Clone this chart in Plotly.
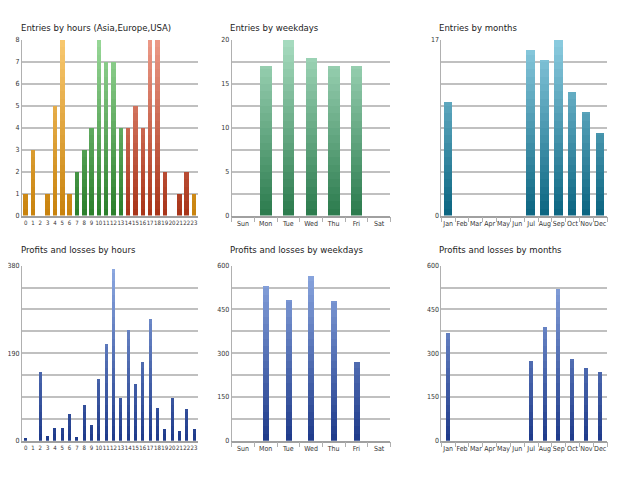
import plotly.graph_objects as go
from plotly.subplots import make_subplots

# Data
hours = [str(h) for h in range(24)]
entries_by_hour = [1, 3, 0, 1, 5, 8, 1, 2, 3, 4, 8, 7, 7, 4, 4, 5, 4, 8, 8, 2, 0, 1, 2, 1]
hour_session = ['asia'] * 7 + ['europe'] * 7 + ['usa'] * 9 + ['asia']

weekdays = ['Sun', 'Mon', 'Tue', 'Wed', 'Thu', 'Fri', 'Sat']
entries_by_weekday = [0, 17, 20, 18, 17, 17, 0]

months = ['Jan', 'Feb', 'Mar', 'Apr', 'May', 'Jun', 'Jul', 'Aug', 'Sep', 'Oct', 'Nov', 'Dec']
entries_by_month = [11, 0, 0, 0, 0, 0, 16, 15, 17, 12, 10, 8]

profit_by_hour = [6, 0, 149, 10, 29, 29, 58, 9, 79, 33, 134, 210, 373, 93, 239, 123, 171, 265, 71, 27, 93, 22, 70, 27]
profit_by_weekday = [0, 533, 482, 567, 477, 270, 0]
profit_by_month = [369, 0, 0, 0, 0, 0, 274, 391, 522, 281, 250, 236]

# gradient colours (bottom, top)
session_colors = {
    'asia': ('#c8820c', '#f8c870'),
    'europe': ('#2a7e2a', '#98d898'),
    'usa': ('#a83418', '#ec9a88'),
}
green = ('#2a7a4c', '#a8dcc0')
teal = ('#0a6480', '#8ccce0')
blue = ('#1e3a8a', '#8eaae2')

FONT = 'DejaVu Sans Condensed, DejaVu Sans'


def mix(c1, c2, t):
    a = [int(c1[i:i + 2], 16) for i in (1, 3, 5)]
    b = [int(c2[i:i + 2], 16) for i in (1, 3, 5)]
    return 'rgb(%d,%d,%d)' % tuple(round(a[k] + (b[k] - a[k]) * t) for k in range(3))


def grad_bars(fig, row, col, cats, vals, cols, ymax, width, nseg=24):
    # fake a vertical gradient by stacking thin slices of each bar
    step = ymax / nseg
    for j in range(nseg):
        lo = j * step
        h = [min(max(v - lo, 0), step) for v in vals]
        t = (j + 0.5) / nseg
        fig.add_trace(go.Bar(
            x=cats, y=h, width=width,
            marker=dict(color=[mix(c[0], c[1], t) for c in cols], line_width=0),
            showlegend=False, hoverinfo='skip'),
            row=row, col=col)


fig = make_subplots(rows=2, cols=3)

grad_bars(fig, 1, 1, hours, entries_by_hour, [session_colors[s] for s in hour_session], 8, 0.62)
grad_bars(fig, 1, 2, weekdays, entries_by_weekday, [green] * 7, 20, 0.5)
grad_bars(fig, 1, 3, months, entries_by_month, [teal] * 12, 17, 0.62)
grad_bars(fig, 2, 1, hours, profit_by_hour, [blue] * 24, 380, 0.42)
grad_bars(fig, 2, 2, weekdays, profit_by_weekday, [blue] * 7, 600, 0.26)
grad_bars(fig, 2, 3, months, profit_by_month, [blue] * 12, 600, 0.3)

# page body adds an 8px margin, so everything is laid out 8px up/left
xdom = [[13 / 640, 189 / 640], [223 / 640, 382 / 640], [433 / 640, 599 / 640]]
ydom = [[1 - 207 / 480, 1 - 28 / 480], [1 - 436 / 480, 1 - 258 / 480]]

yticks = {
    (1, 1): ([i for i in range(9)], [str(i) for i in range(9)], 8),
    (1, 2): ([i * 2.5 for i in range(9)], ['0', '', '5', '', '10', '', '15', '', '20'], 20),
    (1, 3): ([i * 17 / 8 for i in range(9)], ['0'] + [''] * 7 + ['17'], 17),
    (2, 1): ([i * 47.5 for i in range(9)], ['0'] + [''] * 3 + ['190'] + [''] * 3 + ['380'], 380),
    (2, 2): ([i * 75 for i in range(9)], ['0', '', '150', '', '300', '', '450', '', '600'], 600),
    (2, 3): ([i * 75 for i in range(9)], ['0', '', '150', '', '300', '', '450', '', '600'], 600),
}
xcats = {1: hours, 2: weekdays, 3: months}

grid = '#c0c0c0'
tickfont = dict(family=FONT, size=7, color='#333')

for r in (1, 2):
    for c in (1, 2, 3):
        tv, tt, ymax = yticks[(r, c)]
        fig.update_yaxes(domain=ydom[r - 1], range=[0, ymax], tickvals=tv, ticktext=tt,
                         showgrid=True, gridcolor=grid, gridwidth=1.5,
                         showline=True, linecolor='#b0b0b0', linewidth=1,
                         ticks='', tickfont=tickfont, zeroline=False,
                         row=r, col=c)
        fig.update_xaxes(domain=xdom[c - 1], type='category',
                         tickmode='array', tickvals=xcats[c],
                         showline=True, linecolor='#a0a0a0', linewidth=1.5,
                         showgrid=False, tickangle=0,
                         tickfont=dict(tickfont, size=6) if c == 1 else tickfont,
                         ticks='' if c == 1 else 'outside', tickson='boundaries',
                         ticklen=5, tickcolor='#b0b0b0',
                         row=r, col=c)

titles = [
    ('Entries by hours (Asia,Europe,USA)', 10, 16),
    ('Entries by weekdays', 219, 16),
    ('Entries by months', 429, 16),
    ('Profits and losses by hours', 10, 242),
    ('Profits and losses by weekdays', 219, 242),
    ('Profits and losses by months', 429, 242),
]
for text, px, py in titles:
    fig.add_annotation(text=text, x=px / 640, y=1 - py / 480, xref='paper', yref='paper',
                       xanchor='left', yanchor='middle', showarrow=False,
                       font=dict(family=FONT, size=9.5, color='#222'))

fig.update_layout(
    width=640, height=480,
    margin=dict(l=0, r=0, t=0, b=0),
    barmode='stack', bargap=0,
    paper_bgcolor='white', plot_bgcolor='white',
)

fig.write_html("out.html")
